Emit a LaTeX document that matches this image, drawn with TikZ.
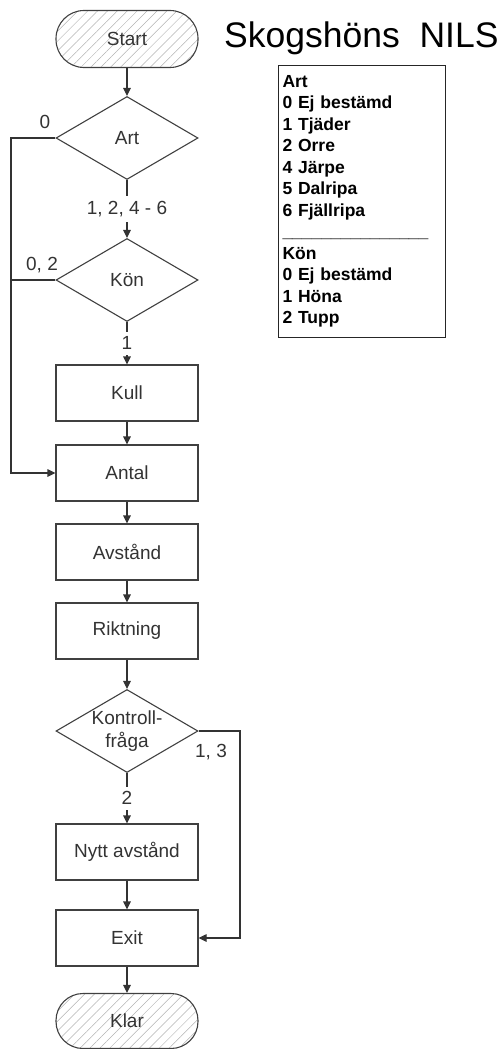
\documentclass[tikz,border=0pt]{standalone}
\usepackage{fontspec}
\setmainfont{Liberation Sans}
\usetikzlibrary{shapes.geometric,arrows.meta,patterns.meta}
\begin{document}
\begin{tikzpicture}[x=1pt,y=-1pt,
  line/.style={draw=black!80, line width=1.1pt},
  arr/.style={line, -{Triangle[length=8pt,width=7.5pt]}},
  txt/.style={font=\fontsize{19}{23}\selectfont, text=black!80},
  box/.style={txt, draw=black!75, line width=1.1pt, minimum width=142pt, minimum height=56pt, inner sep=0pt},
  term/.style={box, minimum height=57pt, rounded corners=28pt, pattern={Lines[angle=45,distance=7pt,line width=0.5pt]}, pattern color=black!30},
  dec/.style={txt, draw=black!75, line width=1.1pt, diamond, aspect=1.7, minimum width=142pt, minimum height=83pt, inner sep=0pt, align=center},
  lbl/.style={txt, inner sep=1pt},
  onl/.style={txt, fill=white, inner xsep=2pt, inner ysep=5pt}
]
\useasboundingbox (0,0) rectangle (503,1049);

% title and legend
\node[anchor=base west, inner sep=0pt, font=\fontsize{35.5}{40}\selectfont] (title) at (224,48) {Skogshöns\hspace{0.556em}NILS};
\node[draw=black!85, line width=1pt, anchor=north west, inner xsep=4pt, inner ysep=0pt,
      text width=159pt, minimum height=272pt, align=left,
      font=\bfseries\fontsize{17.5}{21.5}\selectfont] (legend) at (278,65)
 {Art\\0 Ej bestämd\\1 Tjäder\\2 Orre\\4 Järpe\\5 Dalripa\\6 Fjällripa\\
  \_\_\_\_\_\_\_\_\_\_\_\_\_\_\_\\Kön\\0 Ej bestämd\\1 Höna\\2 Tupp};

% flowchart nodes
\node[term] (start) at (127,39) {Start};
\node[dec]  (art)   at (127,138) {Art};
\node[dec]  (kon)   at (127,280) {Kön};
\node[box]  (kull)  at (127,393) {Kull};
\node[box]  (antal) at (127,473) {Antal};
\node[box]  (avst)  at (127,552) {Avstånd};
\node[box]  (rikt)  at (127,631) {Riktning};
\node[dec, label={[txt, align=center, inner sep=0pt]center:Kontroll-\\fråga}] (kf) at (127,731) {};
\node[box]  (nytt)  at (127,852) {Nytt avstånd};
\node[box]  (exit)  at (127,938) {Exit};
\node[term, minimum height=55pt, rounded corners=27pt] (klar) at (127,1021) {Klar};

\coordinate (lx) at (11,0);
\coordinate (rx) at (240,0);

% connectors
\draw[arr] (start) -- (art);
\draw[arr] (art) -- node[onl] (l1246) {1, 2, 4 - 6} (kon);
\draw[arr] (art.west) -- (art.west -| lx) |- (antal.west);
\draw[line] (kon.west) -- (kon.west -| lx);
\draw[arr] (kon) -- node[onl] (l1) {1} (kull);
\draw[arr] (kull) -- (antal);
\draw[arr] (antal) -- (avst);
\draw[arr] (avst) -- (rikt);
\draw[arr] (rikt) -- (kf);
\draw[arr] (kf) -- node[onl] (l2) {2} (nytt);
\draw[arr] (kf.east) -- (kf.east -| rx) |- (exit.east);
\draw[arr] (nytt) -- (exit);
\draw[arr] (exit) -- (klar);

% branch labels
\node[lbl] (l0)  at (45,122) {0};
\node[lbl] (l02) at (42,265) {0, 2};
\node[lbl] (l13) at (211,752) {1, 3};
\end{tikzpicture}
\end{document}
